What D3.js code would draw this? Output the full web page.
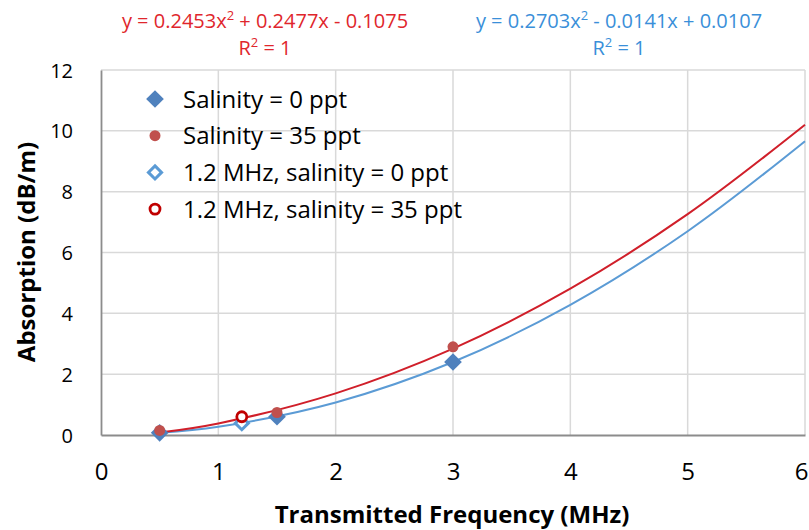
<!DOCTYPE html>
<html>
<head>
<meta charset="utf-8">
<script src="https://cdn.jsdelivr.net/npm/d3@7"></script>
<style>
body{margin:0;background:#fff;}
text{font-family:"Open Sans","Liberation Sans",sans-serif;}
</style>
</head>
<body>
<svg width="809" height="530"></svg>
<script>
// measured points
var sal0X = [0.5, 1.5, 3];
var sal0Y = [0.07, 0.6, 2.4];
var sal35X = [0.5, 1.5, 3];
var sal35Y = [0.15, 0.74, 2.9];
var mhz12X = [1.2];
var mhz12Sal0Y = [0.39];
var mhz12Sal35Y = [0.6];
// trendlines
var trendX = [0.5, 1, 2, 3, 4, 5, 6];
var trend35Y = [0.08, 0.38, 1.37, 2.84, 4.81, 7.26, 10.2];
var trend0Y = [0.07, 0.27, 1.07, 2.40, 4.28, 6.70, 9.66];
var xTicks = [0, 1, 2, 3, 4, 5, 6];
var yTicks = [0, 2, 4, 6, 8, 10, 12];
var legendLabels = ["Salinity = 0 ppt", "Salinity = 35 ppt", "1.2 MHz, salinity = 0 ppt", "1.2 MHz, salinity = 35 ppt"];

var margin = {top:70, left:101, right:4, bottom:95};
var width = 809, height = 530;
var svg = d3.select("svg");
var x = d3.scaleLinear().domain([0,6]).range([margin.left, width-margin.right]);
var y = d3.scaleLinear().domain([0,12]).range([height-margin.bottom, margin.top]);

var blueMark = "#4f81bd", redMark = "#c0504d", blueLine = "#5b9bd5", redLine = "#d01f2a";

// gridlines
var grid = svg.append("g");
grid.selectAll(".gx").data(xTicks.slice(1)).enter().append("line")
    .attr("x1", d=>x(d)).attr("x2", d=>x(d))
    .attr("y1", y(0)).attr("y2", y(12))
    .attr("stroke", "#d9d9d9").attr("stroke-width", 1.5);
grid.selectAll(".gy").data(yTicks.slice(1)).enter().append("line")
    .attr("x1", x(0)).attr("x2", x(6))
    .attr("y1", d=>y(d)).attr("y2", d=>y(d))
    .attr("stroke", "#d9d9d9").attr("stroke-width", 1.5);

// axes
var xAxis = svg.append("g").attr("transform", "translate(0," + y(0) + ")")
    .call(d3.axisBottom(x).tickValues(xTicks).tickFormat(d3.format("d")).tickSize(0).tickPadding(28));
var yAxis = svg.append("g").attr("transform", "translate(" + x(0) + ",0)")
    .call(d3.axisLeft(y).tickValues(yTicks).tickSize(0).tickPadding(28));
[xAxis, yAxis].forEach(function(a){
    a.select(".domain").attr("stroke", "#8c8c8c").attr("stroke-width", 1.8);
    a.selectAll("text").attr("fill", "#000")
     .style("font-family", "'Open Sans','Liberation Sans',sans-serif");
});
xAxis.selectAll("text").attr("font-size", 24)
    .attr("dx", d => d == 6 ? -4 : 0);//最后一个刻度别被裁掉
yAxis.selectAll("text").attr("font-size", 20).attr("dy", "0.35em");

// trendlines
var line = d3.line().curve(d3.curveCatmullRom);
svg.append("path").attr("d", line(trendX.map((d,i)=>[x(d), y(trend0Y[i])])))
    .attr("fill", "none").attr("stroke", blueLine).attr("stroke-width", 2);
svg.append("path").attr("d", line(trendX.map((d,i)=>[x(d), y(trend35Y[i])])))
    .attr("fill", "none").attr("stroke", redLine).attr("stroke-width", 2);

var diamond = d3.symbol().type(d3.symbolDiamond2);

// points
svg.selectAll(".s0").data(sal0X).enter().append("path")
    .attr("d", diamond.size(200)())
    .attr("transform", (d,i)=>"translate(" + x(d) + "," + y(sal0Y[i]) + ")")
    .attr("fill", blueMark);
svg.selectAll(".s35").data(sal35X).enter().append("circle")
    .attr("cx", d=>x(d)).attr("cy", (d,i)=>y(sal35Y[i])).attr("r", 5.5)
    .attr("fill", redMark);
svg.selectAll(".m0").data(mhz12X).enter().append("path")
    .attr("d", diamond.size(110)())
    .attr("transform", (d,i)=>"translate(" + x(d) + "," + y(mhz12Sal0Y[i]) + ")")
    .attr("fill", "#fff").attr("stroke", blueLine).attr("stroke-width", 3);
svg.selectAll(".m35").data(mhz12X).enter().append("circle")
    .attr("cx", d=>x(d)).attr("cy", (d,i)=>y(mhz12Sal35Y[i])).attr("r", 5)
    .attr("fill", "#fff").attr("stroke", "#c00000").attr("stroke-width", 2.8);

// legend
var leg = svg.append("g");
legendLabels.forEach(function(lbl, i){
    var ly = 99 + i*36.7, lx = 155;
    if(i==0) leg.append("path").attr("d", diamond.size(200)()).attr("transform","translate("+lx+","+ly+")").attr("fill", blueMark);
    if(i==1) leg.append("circle").attr("cx", lx).attr("cy", ly).attr("r", 5.5).attr("fill", redMark);
    if(i==2) leg.append("path").attr("d", diamond.size(110)()).attr("transform","translate("+lx+","+ly+")").attr("fill","#fff").attr("stroke", blueLine).attr("stroke-width", 3);
    if(i==3) leg.append("circle").attr("cx", lx).attr("cy", ly).attr("r", 5).attr("fill","#fff").attr("stroke","#c00000").attr("stroke-width", 2.8);
    leg.append("text").attr("x", 183).attr("y", ly).attr("dy", "0.36em")
        .attr("font-size", 24).attr("fill", "#000").text(lbl);
});

// equations
function equation(cx, color, parts){
    var t = svg.append("text").attr("x", cx).attr("y", 28).attr("text-anchor", "middle")
        .attr("font-size", 20).attr("fill", color);
    t.append("tspan").text(parts[0]);
    t.append("tspan").attr("dy", -8).attr("font-size", 13).text("2");
    t.append("tspan").attr("dy", 8).text(parts[1]);
    var r = svg.append("text").attr("x", cx).attr("y", 55).attr("text-anchor", "middle")
        .attr("font-size", 20).attr("fill", color);
    r.append("tspan").text("R");
    r.append("tspan").attr("dy", -8).attr("font-size", 13).text("2");
    r.append("tspan").attr("dy", 8).text(" = 1");
}
equation(265, "#e0262c", ["y = 0.2453x", " + 0.2477x - 0.1075"]);
equation(619, "#3a8fd9", ["y = 0.2703x", " - 0.0141x + 0.0107"]);

// axis titles
svg.append("text").attr("x", 452).attr("y", 523).attr("text-anchor", "middle")
    .attr("font-size", 24).attr("font-weight", "bold").attr("fill", "#000")
    .text("Transmitted Frequency (MHz)");
svg.append("text").attr("transform", "translate(35,252) rotate(-90)").attr("text-anchor", "middle")
    .attr("font-size", 24).attr("font-weight", "bold").attr("fill", "#000")
    .text("Absorption (dB/m)");
</script>
</body>
</html>
